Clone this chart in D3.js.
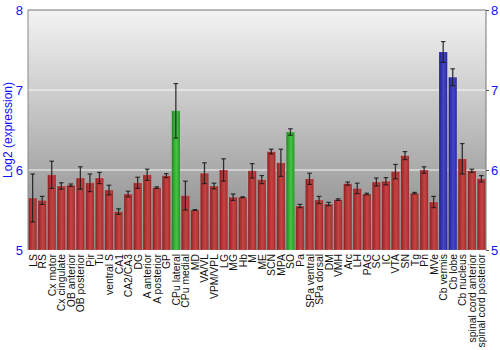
<!DOCTYPE html>
<html><head><meta charset="utf-8">
<script src="https://cdn.jsdelivr.net/npm/d3@7"></script>
<style>body{margin:0;background:#fff}svg{display:block}</style>
</head><body><svg id="c" width="500" height="350"></svg>
<script>
const categories = ["LS","RS","Cx motor","Cx cingulate","OB anterior","OB posterior","Pir","Tu","ventral S","CA1","CA2/CA3","DG","A anterior","A posterior","GP","CPu lateral","CPu medial","MD","VA/VL","VPM/VPL","LG","MG","Hb","M","ME","SCN","MPA","SO","Pa","SPa ventral","SPa dorsal","DM","VMH","Arc","LH","PAG","SC","IC","VTA","SN","Tg","Pn","MVe","Cb vermis","Cb lobe","Cb nucleus","spinal cord anterior","spinal cord posterior"];
const values = [5.65,5.62,5.94,5.80,5.81,5.90,5.84,5.90,5.75,5.48,5.70,5.84,5.94,5.78,5.93,6.74,5.68,5.50,5.96,5.80,6.00,5.66,5.66,5.99,5.88,6.23,6.09,6.475,5.55,5.89,5.625,5.575,5.63,5.83,5.77,5.70,5.85,5.86,5.98,6.18,5.71,6.00,5.60,7.475,7.16,6.14,5.99,5.89];
const errors = [0.30,0.05,0.17,0.04,0.015,0.14,0.11,0.07,0.06,0.035,0.035,0.07,0.07,0.01,0.025,0.34,0.18,0.005,0.13,0.035,0.14,0.04,0.005,0.09,0.05,0.03,0.17,0.04,0.02,0.07,0.045,0.02,0.01,0.02,0.065,0.01,0.05,0.045,0.09,0.05,0.01,0.04,0.07,0.13,0.105,0.19,0.02,0.04];
const groups = ["r","r","r","r","r","r","r","r","r","r","r","r","r","r","r","g","r","r","r","r","r","r","r","r","r","r","r","g","r","r","r","r","r","r","r","r","r","r","r","r","r","r","r","b","b","r","r","r"];
const yTicks = [5,6,7,8];
const yTitle = "Log2 (expression)";

const svg = d3.select("#c");
const L = 28, R = 486, T = 10, B = 250;
const x = d3.scaleBand().domain(categories).range([L, R]).paddingInner(0.13).paddingOuter(0.05);
const y = d3.scaleLinear().domain([5, 8]).range([B, T]);
const defs = svg.append("defs");
const bg = defs.append("linearGradient").attr("id","bg").attr("x1",0).attr("x2",0).attr("y1",0).attr("y2",1);
bg.append("stop").attr("offset","0%").attr("stop-color","#f3f3f3");
bg.append("stop").attr("offset","100%").attr("stop-color","#858585");
const pal = {r:["#7e1b1b","#a52b2b","#c24545","#b33434","#821e1e"], g:["#1a7a1a","#2a9e2a","#45c445","#32a832","#1c7e1c"], b:["#1c1c80","#2b2ba5","#4646c6","#3434b3","#1e1e84"]};
Object.entries(pal).forEach(([k,c])=>{
  const gr = defs.append("linearGradient").attr("id","g"+k).attr("x1",0).attr("x2",1).attr("y1",0).attr("y2",0);
  [0,0.18,0.55,0.85,1].forEach((o,i)=>gr.append("stop").attr("offset",o).attr("stop-color",c[i]));
});
svg.append("rect").attr("x",L).attr("y",T).attr("width",R-L).attr("height",B-T).attr("fill","url(#bg)");
// gridlines
svg.selectAll(".grid").data([6,7]).enter().append("line")
  .attr("x1",L).attr("x2",R).attr("y1",d=>y(d)).attr("y2",d=>y(d))
  .attr("stroke","#fff").attr("stroke-width",1.2).attr("opacity",0.9);
svg.append("line").attr("x1",L).attr("x2",R).attr("y1",y(8)).attr("y2",y(8)).attr("stroke","#777").attr("stroke-width",1.2);
// bars
const idx = d3.range(categories.length);
svg.selectAll(".bar").data(idx).enter().append("rect")
  .attr("x",i=>x(categories[i])).attr("width",x.bandwidth())
  .attr("y",i=>y(values[i])).attr("height",i=>B-y(values[i]))
  .attr("fill",i=>"url(#g"+groups[i]+")")
  .attr("stroke","rgba(255,255,255,0.18)").attr("stroke-width",0.8);
// error bars
const eb = svg.selectAll(".eb").data(idx).enter().append("g");
eb.append("line").attr("x1",i=>x(categories[i])+x.bandwidth()/2).attr("x2",i=>x(categories[i])+x.bandwidth()/2)
  .attr("y1",i=>y(values[i]+errors[i])).attr("y2",i=>y(values[i]-errors[i]))
  .attr("stroke","#1a1a1a").attr("stroke-width",1.3).attr("opacity",0.85);
[1,-1].forEach(s=>{
  eb.append("line").attr("x1",i=>x(categories[i])+x.bandwidth()/2-2.3).attr("x2",i=>x(categories[i])+x.bandwidth()/2+2.3)
    .attr("y1",i=>y(values[i]+s*errors[i])).attr("y2",i=>y(values[i]+s*errors[i]))
    .attr("stroke","#1a1a1a").attr("stroke-width",1.2).attr("opacity",0.85);
});
// axes
svg.append("line").attr("x1",L).attr("x2",L).attr("y1",T).attr("y2",B).attr("stroke","#888");
const ra = svg.append("g").attr("transform",`translate(${R},0)`).call(d3.axisRight(y).tickValues(yTicks).tickSize(3).tickPadding(2).tickFormat(d3.format("d")));
ra.select(".domain").attr("stroke","#777").attr("d",`M0,${T}V${B}`);
ra.selectAll(".tick line").attr("stroke","#555");
ra.selectAll("text").attr("fill","#1010ff").style("font","13px 'Liberation Sans', Arial, sans-serif");
const la = svg.append("g").attr("transform",`translate(${L},0)`).call(d3.axisLeft(y).tickValues(yTicks).tickSize(0).tickPadding(5).tickFormat(d3.format("d")));
la.select(".domain").remove();
la.selectAll("text").attr("fill","#1010ff").style("font","13px 'Liberation Sans', Arial, sans-serif");
svg.append("text").attr("transform",`translate(12,${(T+B)/2}) rotate(-90)`).attr("text-anchor","middle")
  .attr("fill","#1010ff").style("font","12px 'Liberation Sans', Arial, sans-serif").text(yTitle);
// category labels
svg.selectAll(".cl").data(categories).enter().append("text")
  .attr("transform",d=>`translate(${x(d)+x.bandwidth()/2+4},${B+4}) rotate(-90)`)
  .attr("text-anchor","end").attr("fill","#111")
  .style("font","10.4px 'Liberation Sans', Arial, sans-serif").text(d=>d);
</script></body></html>
